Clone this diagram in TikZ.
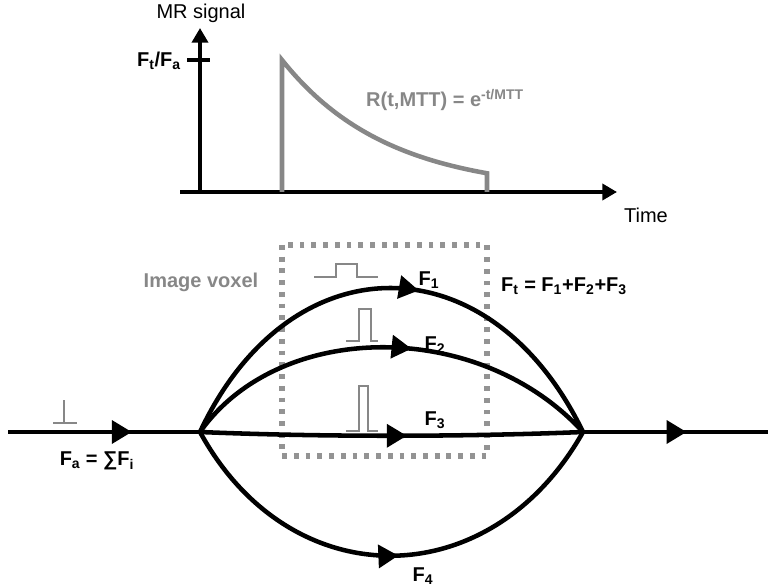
\documentclass[tikz,border=0pt]{standalone}
\usepackage{fontspec}
\setmainfont{Liberation Sans}
\usetikzlibrary{arrows.meta,decorations.markings}
\definecolor{sig}{gray}{0.53}
\tikzset{
  axis/.style={line width=3pt, -{Triangle[length=11pt, width=12pt]}},
  flow/.style={line width=3.4pt},
  flowarr/.style={flow, postaction=decorate, decoration={markings,
    mark=at position #1 with {\arrow{Triangle[length=15pt, width=17pt]}}}},
  decay/.style={line width=3.4pt, draw=sig, line join=miter},
  pulse/.style={line width=1.5pt, draw=sig},
  voxel/.style={line width=3.8pt, draw=sig!90, dash pattern=on 3.6pt off 5.2pt},
  lbl/.style={font=\fontsize{15}{17}\selectfont\bfseries, inner sep=1pt},
  plain/.style={font=\fontsize{15}{17}\selectfont, inner sep=1pt},
}
\newcommand{\pulsebox}[6]{\draw[pulse] (#1,#3) -- (#4,#3) -- (#4,#6) -- (#5,#6) -- (#5,#3) -- (#2,#3);}
\newcommand{\dn}[1]{\textsubscript{#1}}
\def\yB{432}
\def\xL{200}
\def\xR{583}

\begin{document}
\begin{tikzpicture}[x=0.75pt, y=-0.75pt]
\useasboundingbox (0,0) rectangle (768,588);

% signal plot
\coordinate (o) at (200,192);
\coordinate (ytop) at (200,28);
\coordinate (xend) at (617,192);
\draw[axis] (180,192) -- (xend);
\draw[axis] (o) -- (ytop);
\draw[line width=3pt] (187,60) -- (210,60);
\draw[decay] (282,192) -- (282,60) -- plot[domain=282:487, samples=50] (\x, {192-132*exp(-(\x-282)/105)}) -- (487,192);
\node[plain] (mr) at (201,13) {MR signal};
\node[lbl] (ftfa) at (159,61) {F\dn{t}/F\dn{a}};
\node[plain] (time) at (646,215) {Time};
\node[lbl, text=sig] (resid) at (445,100) {R(t,MTT) = e\textsuperscript{-t/MTT}};

% vessels
\coordinate (in) at (8,\yB);
\coordinate (jl) at (\xL,\yB);
\coordinate (jr) at (\xR,\yB);
\coordinate (out) at (768,\yB);
\draw[voxel] (282,245) rectangle (487,456);
\draw[flowarr=0.645] (in) -- (jl);
\draw[flowarr=0.56] (jr) -- (out);
\draw[flowarr=0.555] (jl) .. controls (290,240) and (490,240) .. (jr);
\draw[flowarr=0.55] (jl) .. controls (280,319) and (480,319) .. (jr);
\draw[flowarr=0.54] (jl) .. controls (320,437) and (460,437) .. (jr);
\draw[flowarr=0.515] (jl) .. controls (290,597) and (490,597) .. (jr);

% bolus shapes
\draw[pulse] (64,400) -- (64,423) (53,423) -- (77,423);
\pulsebox{314}{378}{277}{336}{357}{264}
\pulsebox{346}{378}{341}{359}{371}{309}
\pulsebox{346}{378}{431}{359}{368}{386}

\node[lbl, text=sig] (voxlbl) at (201,282) {Image voxel};
\node[lbl] (f1) at (429,280) {F\dn{1}};
\node[lbl] (f2) at (435,345) {F\dn{2}};
\node[lbl] (f3) at (435,420) {F\dn{3}};
\node[lbl] (f4) at (423,576) {F\dn{4}};
\node[lbl] (ft) at (564,286) {F\dn{t} = F\dn{1}+F\dn{2}+F\dn{3}};
\node[lbl] (fa) at (97,461) {F\dn{a} = ∑F\dn{i}};

\end{tikzpicture}
\end{document}
